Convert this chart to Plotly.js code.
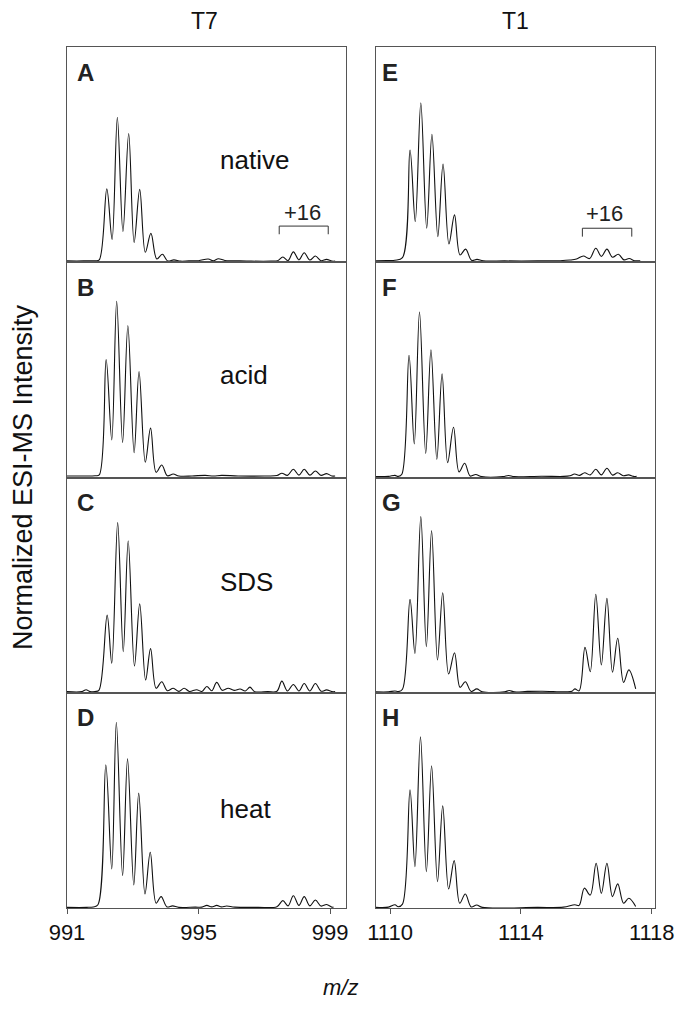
<!DOCTYPE html>
<html>
<head>
<meta charset="utf-8">
<script src="https://cdn.plot.ly/plotly-3.0.1.min.js"></script>
<style>html,body{margin:0;padding:0;background:#fff;}#chart{width:680px;height:1011px;}</style>
</head>
<body>
<div id="chart"></div>
<script>
// ---- Data (m/z, normalized intensity in % of panel height) ----
const columnTitles = ["T7", "T1"];
const panelLetters = ["A", "B", "C", "D", "E", "F", "G", "H"];
const conditions = ["native", "acid", "SDS", "heat"];
const ticksT7 = [991, 995, 999];
const ticksT1 = [1110, 1114, 1118];

const mzA = [991.0,991.5,991.85,991.98,992.21,992.37,992.53,992.70,992.875,993.04,993.21,993.38,993.55,993.73,993.90,994.06,994.25,994.45,994.7,995.0,995.29,995.45,995.6,995.8,996.1,996.6,997.2,997.40,997.56,997.72,997.88,998.05,998.21,998.38,998.55,998.72,998.89,999.05,999.15];
const intA = [0.5,0.5,0.6,1.0,34,10.5,67.3,14.1,59.8,9.1,33.8,4.5,13.3,1.4,3.6,0.5,1.0,0.4,0.5,0.6,1.4,0.6,1.5,0.7,0.6,0.4,0.4,0.6,2.3,0.7,4.7,1.0,4.3,0.9,2.8,0.6,1.2,0.4,0.4];

const mzB = [991.0,991.5,991.85,991.98,992.19,992.36,992.51,992.69,992.85,993.04,993.19,993.38,993.54,993.71,993.88,994.05,994.23,994.4,994.8,995.2,995.45,995.7,996.2,997.0,997.38,997.53,997.70,997.88,998.05,998.21,998.38,998.55,998.72,998.89,999.05,999.15];
const intB = [0.7,0.7,0.8,1.2,54.7,17.4,81.8,16.2,70.5,11.5,49.2,7.1,22.9,2.4,5.8,0.8,1.6,0.7,0.7,1.0,0.7,1.0,0.7,0.7,0.9,2.0,1.0,3.8,1.1,3.8,1.1,3.0,1.0,1.8,0.7,0.7];

const mzC = [991.0,991.45,991.58,991.7,991.85,991.97,992.22,992.36,992.54,992.71,992.86,993.05,993.21,993.39,993.54,993.71,993.88,994.05,994.23,994.40,994.56,994.72,994.94,995.1,995.25,995.4,995.55,995.72,995.90,996.08,996.26,996.42,996.56,996.7,997.1,997.38,997.53,997.70,997.88,998.05,998.21,998.38,998.55,998.72,998.89,999.05,999.15];
const intC = [0.4,0.4,1.3,0.4,0.5,1.0,36,13.6,79,19,70.6,12.3,41.2,5.8,20.4,2.0,5.0,0.8,2.0,0.5,2.0,0.5,1.3,0.5,2.8,0.8,4.7,1.0,2.0,1.0,1.6,0.7,2.5,0.4,0.4,0.6,5.3,0.7,3.7,0.7,4.2,0.7,4.2,0.6,1.2,0.4,0.4];

const mzD = [991.0,991.6,991.8,991.94,992.18,992.36,992.50,992.69,992.84,993.03,993.18,993.37,993.53,993.71,993.86,994.04,994.21,994.4,994.9,995.1,995.25,995.4,995.55,995.7,995.85,996.1,996.8,997.38,997.56,997.72,997.88,998.05,998.21,998.38,998.55,998.72,998.89,999.05,999.1];
const intD = [0.3,0.3,0.5,1.5,66.5,18.1,86.2,15,69.2,10.7,53.3,6.5,25.9,2.2,5.3,0.5,1.0,0.3,0.4,0.4,1.2,0.5,1.2,0.5,0.9,0.4,0.3,0.6,3.4,1.0,5.7,1.2,5.3,1.0,3.7,0.9,1.6,0.4,0.4];

const mzE = [1109.57,1109.9,1110.15,1110.38,1110.61,1110.77,1110.94,1111.12,1111.28,1111.46,1111.62,1111.80,1111.97,1112.14,1112.31,1112.49,1112.66,1112.85,1113.5,1114.5,1115.2,1115.5,1115.7,1115.91,1116.10,1116.29,1116.46,1116.63,1116.80,1116.98,1117.15,1117.31,1117.48,1117.65];
const intE = [0.6,0.7,0.8,2.0,52.1,18.8,74.1,15.7,59.4,11.8,45.6,8.4,21.9,3.3,6.0,0.8,1.2,0.5,0.5,0.5,0.6,0.9,1.4,2.8,1.6,6.4,2.6,6.0,2.2,3.6,1.0,1.6,0.6,0.6];

const mzF = [1109.57,1109.95,1110.15,1110.25,1110.36,1110.58,1110.74,1110.90,1111.09,1111.25,1111.43,1111.59,1111.76,1111.94,1112.11,1112.28,1112.45,1112.62,1112.8,1113.45,1113.62,1113.8,1114.63,1115.3,1115.5,1115.64,1115.80,1115.95,1116.12,1116.29,1116.46,1116.63,1116.80,1116.96,1117.13,1117.29,1117.45,1117.54];
const intF = [0.4,0.5,1.0,0.5,1.5,56.7,15.6,76.8,11.2,59.3,8.4,48.1,6.9,23.3,2.6,6.6,0.7,1.4,0.4,0.4,0.9,0.4,0.6,0.5,0.8,1.6,1.0,2.2,1.2,3.8,1.2,4.3,1.1,2.2,0.8,1.2,0.5,0.6];

const mzG = [1109.57,1109.95,1110.15,1110.25,1110.38,1110.61,1110.76,1110.94,1111.11,1111.27,1111.45,1111.61,1111.79,1111.97,1112.14,1112.30,1112.48,1112.65,1112.82,1113.5,1113.64,1113.8,1114.2,1114.65,1115.4,1115.56,1115.65,1115.78,1115.96,1116.12,1116.29,1116.46,1116.63,1116.80,1116.96,1117.14,1117.30,1117.51];
const intG = [0.3,0.3,0.7,0.4,1.5,43.3,18.2,81.8,21.3,75.3,15.1,46.4,8.6,18.5,2.4,5.0,0.5,1.7,0.3,0.3,0.9,0.3,0.5,0.6,0.3,0.6,1.7,0.8,21.0,9.7,45.7,12.8,43.8,9.4,25.2,4.7,10.5,1.7];

const mzH = [1109.57,1109.95,1110.15,1110.25,1110.38,1110.61,1110.76,1110.93,1111.11,1111.27,1111.45,1111.61,1111.79,1111.96,1112.13,1112.30,1112.48,1112.65,1112.82,1114.5,1115.3,1115.65,1115.78,1115.94,1116.12,1116.30,1116.46,1116.63,1116.80,1116.96,1117.14,1117.30,1117.51];
const intH = [0.3,0.4,1.5,0.6,1.8,54.9,19.2,79.4,16.9,66,12.2,47.4,8.8,22,2.2,6.5,0.5,1.4,0.3,0.3,0.4,1.5,1.2,9.2,6.0,20.8,6.8,20.8,5.3,11.2,2.2,4.5,0.7];

const spectraMz = [mzA, mzB, mzC, mzD, mzE, mzF, mzG, mzH];
const spectraInt = [intA, intB, intC, intD, intE, intF, intG, intH];

// ---- Layout geometry (pixels) ----
const W = 680, H = 1011;
const colX = [[67, 346], [376, 655]];
const rowY = [[47, 262], [262, 477.5], [477.5, 692.5], [692.5, 908]];
const xRanges = [[991, 999.48], [1109.57, 1118.1]];
const FONT = '"Liberation Sans", Arial, Helvetica, sans-serif';
const px = x => x / W;
const py = y => 1 - y / H;

const traces = [];
const layout = {
  width: W, height: H,
  margin: {l: 0, r: 0, t: 0, b: 0},
  paper_bgcolor: '#fff', plot_bgcolor: '#fff',
  showlegend: false,
  font: {family: FONT, color: '#111'},
  annotations: [], shapes: []
};

for (let c = 0; c < 2; c++) {
  for (let r = 0; r < 4; r++) {
    const i = c * 4 + r;
    const n = i + 1;
    const xa = 'xaxis' + (n === 1 ? '' : n);
    const ya = 'yaxis' + (n === 1 ? '' : n);
    const bottom = r === 3;
    traces.push({
      x: spectraMz[i], y: spectraInt[i],
      xaxis: 'x' + (n === 1 ? '' : n), yaxis: 'y' + (n === 1 ? '' : n),
      type: 'scatter', mode: 'lines',
      line: {color: '#111', width: 1.1, shape: 'spline', smoothing: 1},
      hoverinfo: 'skip'
    });
    layout[xa] = {
      domain: [px(colX[c][0]), px(colX[c][1])],
      range: xRanges[c], anchor: 'y' + (n === 1 ? '' : n),
      showline: true, mirror: true, linecolor: '#555', linewidth: 1,
      showgrid: false, zeroline: false,
      ticks: bottom ? 'outside' : '', ticklen: 5, tickwidth: 1, tickcolor: '#555',
      tickvals: c === 0 ? ticksT7 : ticksT1,
      ticktext: (c === 0 ? ticksT7 : ticksT1).map(String),
      showticklabels: bottom,
      tickfont: {size: 22, family: FONT, color: '#111'}
    };
    layout[ya] = {
      domain: [py(rowY[r][1]), py(rowY[r][0])],
      range: [0, 100], anchor: 'x' + (n === 1 ? '' : n),
      showline: true, mirror: true, linecolor: '#555', linewidth: 1,
      showgrid: false, zeroline: false, ticks: '', showticklabels: false
    };
    // panel letter
    layout.annotations.push({
      text: '<b>' + panelLetters[i] + '</b>', xref: 'paper', yref: 'paper',
      x: px(c === 0 ? 75 : 380), y: py(rowY[r][0] + 25), xanchor: 'left', yanchor: 'middle',
      showarrow: false, font: {size: 24, family: FONT, color: '#222'}
    });
    if (c === 0) {
      layout.annotations.push({
        text: conditions[r], xref: 'paper', yref: 'paper',
        x: px(218), y: py(rowY[r][0] + [113, 113.5, 104, 116.5][r]), xanchor: 'left', yanchor: 'middle',
        showarrow: false, font: {size: 26, family: FONT, color: '#111'}
      });
    }
  }
}

// +16 brackets (panels A and E)
layout.shapes.push({type: 'path', xref: 'x', yref: 'y', path: 'M997.45,12.9 L997.45,16.7 L998.94,16.7 L998.94,12.9', line: {color: '#333', width: 1}});
layout.shapes.push({type: 'path', xref: 'x5', yref: 'y5', path: 'M1115.88,11.8 L1115.88,15.7 L1117.39,15.7 L1117.39,11.8', line: {color: '#333', width: 1}});
layout.annotations.push({text: '+16', xref: 'x', yref: 'y', x: 998.15, y: 23, showarrow: false, xanchor: 'center', yanchor: 'middle', font: {size: 22, family: FONT, color: '#222'}});
layout.annotations.push({text: '+16', xref: 'x5', yref: 'y5', x: 1116.55, y: 22.5, showarrow: false, xanchor: 'center', yanchor: 'middle', font: {size: 22, family: FONT, color: '#222'}});

// column titles
layout.annotations.push({text: columnTitles[0], xref: 'paper', yref: 'paper', x: px(204), y: py(21), showarrow: false, xanchor: 'center', yanchor: 'middle', font: {size: 23, family: FONT, color: '#111'}});
layout.annotations.push({text: columnTitles[1], xref: 'paper', yref: 'paper', x: px(515), y: py(21), showarrow: false, xanchor: 'center', yanchor: 'middle', font: {size: 23, family: FONT, color: '#111'}});
// axis titles
layout.annotations.push({text: 'Normalized ESI-MS Intensity', xref: 'paper', yref: 'paper', x: px(23), y: py(477), textangle: -90, showarrow: false, xanchor: 'center', yanchor: 'middle', font: {size: 27, family: FONT, color: '#111'}});
layout.annotations.push({text: '<i>m/z</i>', xref: 'paper', yref: 'paper', x: px(340), y: py(987), showarrow: false, xanchor: 'center', yanchor: 'middle', font: {size: 22, family: FONT, color: '#111'}});

Plotly.newPlot('chart', traces, layout, {staticPlot: true, displayModeBar: false});
</script>
</body>
</html>
